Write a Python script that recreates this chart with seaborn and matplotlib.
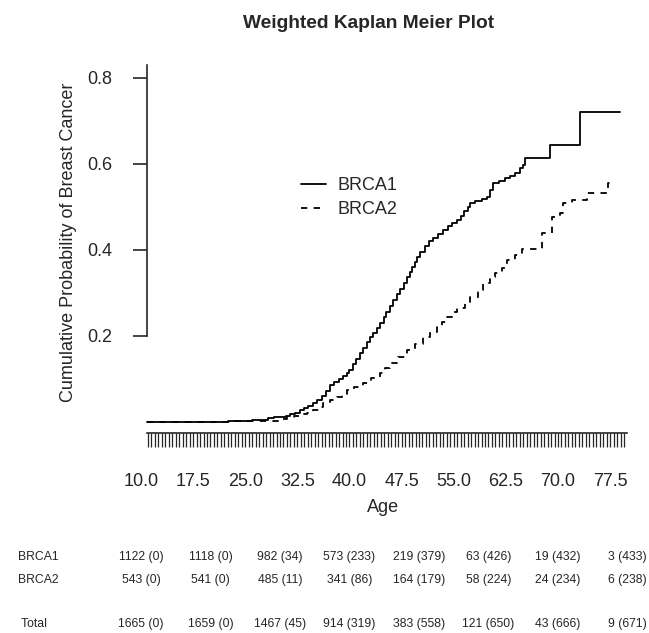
import matplotlib
matplotlib.use("Agg")
import matplotlib.pyplot as plt
import matplotlib.transforms as mtransforms
import numpy as np
import pandas as pd
import seaborn as sns

# step curves (age, cumulative probability after step)
brca1_age = [10.9, 22.5, 26.0, 28.3, 29.2, 30.0, 30.8, 31.5, 32.2, 32.9, 33.5, 34.1,
             34.7, 35.3, 36.0, 36.6, 37.2, 37.8, 38.5, 39.0, 39.6, 40.0, 40.5, 41.0,
             41.5, 42.0, 42.5, 42.9, 43.4, 43.9, 44.4, 44.9, 45.3, 45.8, 46.3, 46.8,
             47.3, 47.8, 48.3, 48.7, 49.0, 49.4, 49.7, 50.2, 50.8, 51.4, 52.0, 52.7,
             53.5, 54.2, 54.8, 55.5, 56.0, 56.5, 57.0, 57.3, 58.0, 59.0, 59.8, 60.2,
             60.6, 61.5, 62.4, 63.1, 63.8, 64.5, 65.0, 65.3, 68.8, 73.2, 78.9]
brca1_prob = [0.0, 0.003, 0.005, 0.010, 0.011, 0.012, 0.015, 0.018, 0.022, 0.028, 0.033, 0.038,
              0.044, 0.050, 0.060, 0.072, 0.086, 0.093, 0.100, 0.106, 0.114, 0.122, 0.135, 0.147,
              0.160, 0.173, 0.186, 0.198, 0.208, 0.219, 0.230, 0.243, 0.255, 0.270, 0.284, 0.297,
              0.310, 0.324, 0.337, 0.349, 0.360, 0.372, 0.384, 0.396, 0.410, 0.420, 0.428, 0.437,
              0.447, 0.455, 0.462, 0.470, 0.480, 0.490, 0.500, 0.509, 0.514, 0.518, 0.523, 0.540,
              0.556, 0.561, 0.567, 0.572, 0.579, 0.590, 0.598, 0.614, 0.644, 0.721, 0.721]

brca2_age = [10.9, 22.8, 30.0, 31.0, 32.0, 32.9, 33.9, 34.8, 35.8, 36.2, 37.2, 38.2,
             38.9, 39.6, 40.7, 41.9, 43.1, 44.4, 45.1, 45.8, 47.0, 48.3, 49.4, 50.6,
             51.6, 52.6, 53.3, 54.0, 54.7, 55.5, 56.6, 57.3, 58.5, 59.2, 60.2, 61.0,
             61.9, 62.7, 63.8, 64.8, 67.7, 69.1, 70.3, 70.7, 72.0, 74.2, 77.2, 78.2]
brca2_prob = [0.0, 0.002, 0.007, 0.011, 0.015, 0.018, 0.021, 0.028, 0.035, 0.044, 0.051, 0.058,
              0.066, 0.074, 0.082, 0.091, 0.102, 0.114, 0.125, 0.137, 0.152, 0.167, 0.182, 0.198,
              0.209, 0.221, 0.232, 0.244, 0.255, 0.265, 0.277, 0.291, 0.307, 0.323, 0.337, 0.347,
              0.358, 0.377, 0.388, 0.402, 0.440, 0.477, 0.486, 0.509, 0.516, 0.533, 0.556, 0.556]

x_ticks = [10.0, 17.5, 25.0, 32.5, 40.0, 47.5, 55.0, 62.5, 70.0, 77.5]
y_ticks = [0.2, 0.4, 0.6, 0.8]

# number at risk (events) table
risk_ages = [10, 20, 30, 40, 50, 60, 70, 80]
brca1_risk = ["1122 (0)", "1118 (0)", "982 (34)", "573 (233)", "219 (379)", "63 (426)", "19 (432)", "3 (433)"]
brca2_risk = ["543 (0)", "541 (0)", "485 (11)", "341 (86)", "164 (179)", "58 (224)", "24 (234)", "6 (238)"]
total_risk = ["1665 (0)", "1659 (0)", "1467 (45)", "914 (319)", "383 (558)", "121 (650)", "43 (666)", "9 (671)"]

df = pd.concat([
    pd.DataFrame({"age": brca1_age, "prob": brca1_prob, "gene": "BRCA1"}),
    pd.DataFrame({"age": brca2_age, "prob": brca2_prob, "gene": "BRCA2"}),
], ignore_index=True)

sns.set_style("ticks")
plt.rcParams["font.family"] = ["Liberation Sans", "DejaVu Sans"]

fig = plt.figure(figsize=(6.49, 6.33), dpi=100)
W, H = 649, 633
ax = fig.add_axes([141 / W, (H - 433) / H, (627 - 141) / W, (433 - 62) / H])

sns.lineplot(data=df, x="age", y="prob", hue="gene", style="gene",
             palette={"BRCA1": "black", "BRCA2": "black"},
             dashes={"BRCA1": "", "BRCA2": (3.5, 3.5)},
             estimator=None, sort=False, drawstyle="steps-post",
             linewidth=1.3, ax=ax)

ax.set_xlim(10, 79.93)
ax.set_ylim(-0.0256, 0.837)

# axes styling, R-like
for s in ("top", "right"):
    ax.spines[s].set_visible(False)
ax.spines["left"].set_position(("data", 10.86))
ax.spines["left"].set_bounds(0.2, 0.83)
ax.spines["bottom"].set_bounds(10.8, 79.93)
ax.spines["left"].set_linewidth(1.2)
ax.spines["bottom"].set_linewidth(1.2)

ax.set_xticks(x_ticks)
ax.set_xticklabels([f"{t:.1f}" for t in x_ticks])
ax.set_xticks(np.arange(11.0, 79.6, 0.5), minor=True)
ax.xaxis.remove_overlapping_locs = False
ax.tick_params(axis="x", which="major", length=0, pad=29, labelsize=13)
ax.tick_params(axis="x", which="minor", length=10, width=0.9, direction="out")
ax.set_yticks(y_ticks)
ax.set_yticklabels([f"{t:.1f}" for t in y_ticks])
ax.tick_params(axis="y", length=10, width=1.2, pad=15, labelsize=13)

ax.set_xlabel("Age", fontsize=13, va="center")
ax.xaxis.set_label_coords(0.498, -0.202)
ax.set_ylabel("Cumulative Probability of Breast Cancer", fontsize=13, va="center")
ax.yaxis.set_label_coords(-0.15, 0.515)

handles, labels = ax.get_legend_handles_labels()
ax.legend(handles, labels, frameon=False, loc="upper left",
          bbox_to_anchor=(292 / W, 1 - 168 / H), bbox_transform=fig.transFigure,
          borderpad=0, handlelength=1.4, handletextpad=0.6, labelspacing=0.4,
          fontsize=13)

fig.text(369 / W, 1 - 23 / H, "Weighted Kaplan Meier Plot", ha="center", va="center",
         fontsize=13.8, fontweight="bold")

# at-risk table
tab_font = dict(fontsize=8.8)
trans = mtransforms.blended_transform_factory(ax.transData, fig.transFigure)
rows = [("BRCA1", brca1_risk, 557), ("BRCA2", brca2_risk, 580), (" Total", total_risk, 624)]
for name, vals, ypx in rows:
    fig.text(18 / W, 1 - ypx / H, name, ha="left", va="center", **tab_font)
    for a, v in zip(risk_ages, vals):
        ax.text(a, 1 - ypx / H, v, transform=trans, ha="center", va="center",
                clip_on=False, **tab_font)

fig.savefig("out.png", dpi=100)
